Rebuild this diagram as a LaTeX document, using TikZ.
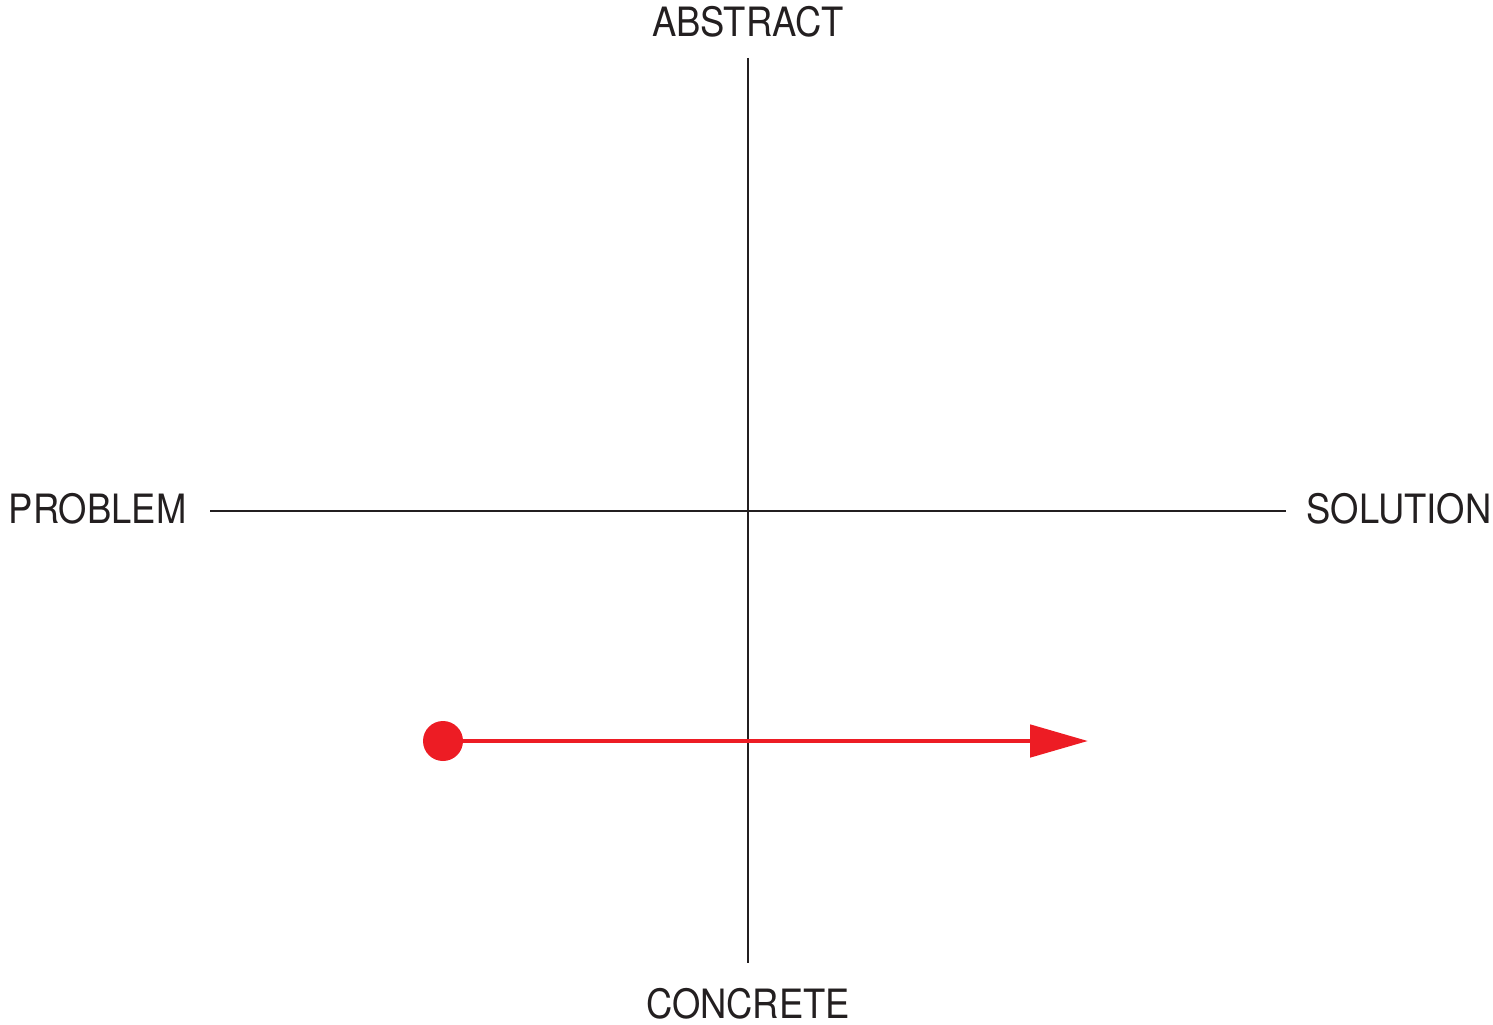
\documentclass[tikz,border=0pt]{standalone}
\usepackage{fontspec}
\setmainfont{TeX Gyre Heros}[FakeStretch=0.9]
\usepackage{xcolor}
\usepackage{tikz}
\usetikzlibrary{arrows.meta, positioning}
\definecolor{pathred}{HTML}{ED1C24}
\definecolor{inkgray}{HTML}{231F20}
\tikzset{
  axis/.style={draw=inkgray, line width=0.45pt},
  pole/.style={inner sep=0pt, text=inkgray, font=\fontsize{11.5}{13}\selectfont},
  start/.style={circle, fill=pathred, inner sep=0pt, minimum size=4mm},
  move/.style={-{Triangle[length=5.8mm, width=3.2mm]}, line width=1.4pt, pathred}
}
\begin{document}
\begin{tikzpicture}[x=1cm,y=1cm]
    \useasboundingbox (0,0) rectangle (14.93,10.24);
    % axes
    \coordinate (top) at (7.48,9.66);
    \coordinate (bottom) at (7.48,0.61);
    \coordinate (left) at (2.10,5.13);
    \coordinate (right) at (12.86,5.13);
    \draw[axis] (top) -- (bottom);
    \draw[axis] (left) -- (right);
    \node[pole] (abstract) at (7.48,10.02) {ABSTRACT};
    \node[pole] (concrete) at (7.48,0.20) {CONCRETE};
    \node[pole, anchor=east] (problem) at (1.87,5.15) {PROBLEM};
    \node[pole, anchor=west] (solution) at (13.06,5.15) {SOLUTION};
    % movement
    \node[start] (dot) at (4.43,2.83) {};
    \coordinate (goal) at (10.88,2.83);
    \draw[move] (dot.center) -- (goal);
\end{tikzpicture}
\end{document}
